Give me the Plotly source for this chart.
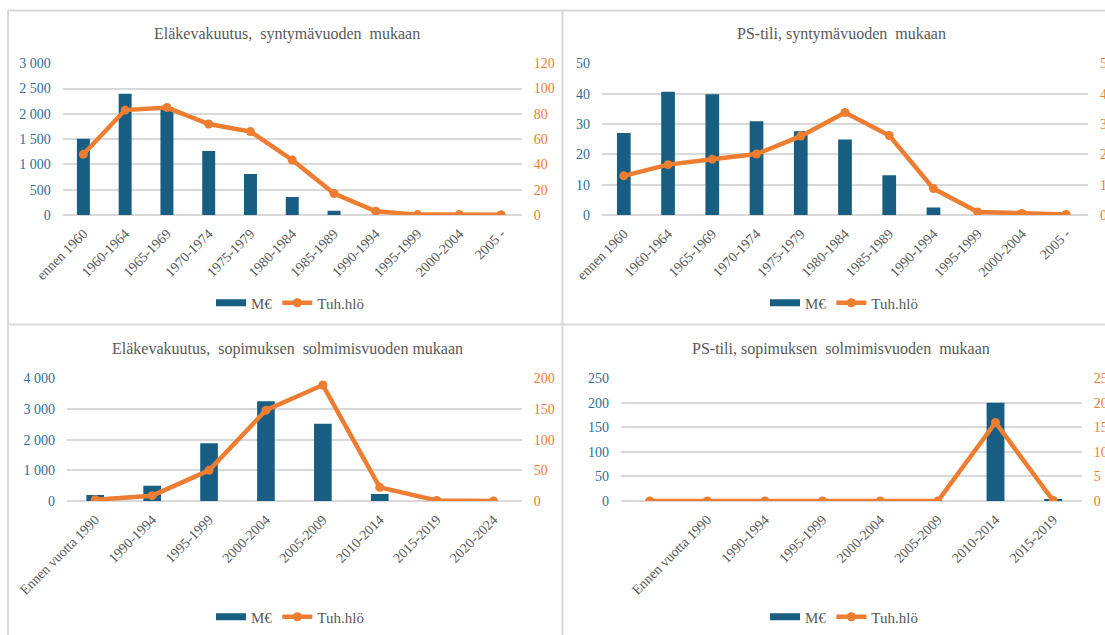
import plotly.graph_objects as go

# ---- data -------------------------------------------------------------
birth_groups = ["ennen 1960", "1960-1964", "1965-1969", "1970-1974", "1975-1979",
                "1980-1984", "1985-1989", "1990-1994", "1995-1999", "2000-2004", "2005 -"]

ins_birth_meur = [1510, 2400, 2130, 1265, 810, 355, 85, 0, 0, 0, 0]
ins_birth_persons = [48, 83, 85, 72, 66, 43.5, 17, 3, 0.3, 0.3, 0.2]

ps_birth_meur = [27.0, 40.6, 39.8, 30.9, 27.6, 24.9, 13.1, 2.5, 0, 0, 0]
ps_birth_persons = [12.9, 16.6, 18.4, 20.1, 26.0, 33.8, 26.2, 8.7, 1.0, 0.5, 0.2]

contract_groups = ["Ennen vuotta 1990", "1990-1994", "1995-1999", "2000-2004",
                   "2005-2009", "2010-2014", "2015-2019", "2020-2024"]
ins_contract_meur = [195, 500, 1880, 3250, 2520, 230, 0, 0]
ins_contract_persons = [2, 8.7, 50, 148, 189, 22.3, 1, 0]

ps_contract_groups = ["", "Ennen vuotta 1990", "1990-1994", "1995-1999", "2000-2004",
                      "2005-2009", "2010-2014", "2015-2019"]
ps_contract_meur = [0, 0, 0, 0, 0, 0, 200, 4]
ps_contract_persons = [0, 0, 0, 0, 0, 0, 16.0, 0.1]

titles = ["Eläkevakuutus,  syntymävuoden  mukaan",
          "PS-tili, syntymävuoden  mukaan",
          "Eläkevakuutus,  sopimuksen  solmimisvuoden mukaan",
          "PS-tili, sopimuksen  solmimisvuoden  mukaan"]

# ---- styling ----------------------------------------------------------
W, H = 1105, 635
FONT = "Liberation Serif"
BAR = "#175E82"
LINE = "#ED7D31"
LEFT_TXT = "#2F6E94"
GRAY_TXT = "#595959"
GRID = "#D9D9D9"


def px(v):
    return v / W


def py(v):
    return 1 - v / H


panels = [
    dict(x=(62.5, 522.0), y=(63.3, 215.0), cats=birth_groups, bars=ins_birth_meur,
         line=ins_birth_persons, left=(3000, 500), right=(120, 20),
         title=(287, 34), legend=(290, 303), numeric=False),
    dict(x=(601.7, 1088.3), y=(63.3, 215.0), cats=birth_groups, bars=ps_birth_meur,
         line=ps_birth_persons, left=(50, 10), right=(50, 10),
         title=(841, 34), legend=(844, 303), numeric=False),
    dict(x=(66.8, 522.0), y=(378.3, 501.0), cats=contract_groups, bars=ins_contract_meur,
         line=ins_contract_persons, left=(4000, 1000), right=(200, 50),
         title=(287, 349), legend=(290, 617), numeric=False),
    dict(x=(620.8, 1082.0), y=(378.3, 501.0), cats=ps_contract_groups, bars=ps_contract_meur,
         line=ps_contract_persons, left=(250, 50), right=(25, 5),
         title=(841, 349), legend=(844, 617), numeric=True),
]

fig = go.Figure()
layout = dict(
    width=W, height=H, margin=dict(l=0, r=0, t=0, b=0),
    paper_bgcolor="white", plot_bgcolor="rgba(0,0,0,0)",
    separators=", ", showlegend=True, bargap=0.69,
    font=dict(family=FONT, color=GRAY_TXT, size=14),
    annotations=[], shapes=[],
)

for i, p in enumerate(panels):
    k = i + 1
    xa = "x" if k == 1 else f"x{k}"
    ya = "y" if k == 1 else f"y{k}"
    ya2 = f"y{k + 4}"
    leg = "legend" if k == 1 else f"legend{k}"
    n = len(p["cats"])
    xs = list(range(n)) if p["numeric"] else p["cats"]

    fig.add_trace(go.Bar(x=xs, y=p["bars"], xaxis=xa, yaxis=ya, marker_color=BAR,
                         marker_line_width=0, showlegend=False, name="M€"))
    # legend entry for the bars drawn as a wide swatch
    fig.add_trace(go.Scatter(x=[None], y=[None], xaxis=xa, yaxis=ya, mode="lines",
                             line=dict(color=BAR, width=7), name="M€", legend=leg))
    fig.add_trace(go.Scatter(x=xs, y=p["line"], xaxis=xa, yaxis=ya2, mode="lines+markers",
                             line=dict(color=LINE, width=4.5), marker=dict(color=LINE, size=9),
                             name="Tuh.hlö", legend=leg))

    xaxis = dict(domain=[px(p["x"][0]), px(p["x"][1])], anchor=ya,
                 range=[-0.5, n - 0.5], tickangle=-45, showgrid=False,
                 showline=False, zeroline=False, ticks="outside", ticklen=4,
                 tickcolor="rgba(0,0,0,0)", automargin=False,
                 tickfont=dict(family=FONT, size=14, color=GRAY_TXT))
    if p["numeric"]:
        xaxis.update(tickmode="array", tickvals=list(range(n)), ticktext=p["cats"])
    else:
        xaxis.update(type="category")
    layout["xaxis" if k == 1 else f"xaxis{k}"] = xaxis

    ydom = [py(p["y"][1]), py(p["y"][0])]
    layout["yaxis" if k == 1 else f"yaxis{k}"] = dict(
        domain=ydom, anchor=xa, range=[0, p["left"][0]], dtick=p["left"][1],
        tickformat=",d", showgrid=True, gridcolor=GRID, gridwidth=1.5,
        zeroline=True, zerolinecolor=GRID, zerolinewidth=1.5, showline=False,
        ticks="outside", ticklen=8, tickcolor="rgba(0,0,0,0)", automargin=False,
        tickfont=dict(family=FONT, size=14, color=LEFT_TXT))
    layout[f"yaxis{k + 4}"] = dict(
        domain=ydom, anchor=xa, overlaying=ya, side="right",
        range=[0, p["right"][0]], dtick=p["right"][1], showgrid=False,
        zeroline=False, showline=False, ticks="outside", ticklen=8,
        tickcolor="rgba(0,0,0,0)", automargin=False,
        tickfont=dict(family=FONT, size=14, color=LINE))

    layout[leg] = dict(orientation="h", x=px(p["legend"][0]), y=py(p["legend"][1]),
                       xanchor="center", yanchor="middle", bgcolor="rgba(0,0,0,0)",
                       font=dict(family=FONT, size=15, color=GRAY_TXT),
                       itemwidth=30, tracegroupgap=0)

    layout["annotations"].append(dict(
        text=titles[i], x=px(p["title"][0]), y=py(p["title"][1]),
        xref="paper", yref="paper", xanchor="center", yanchor="middle", showarrow=False,
        font=dict(family=FONT, size=16, color=GRAY_TXT)))

# chart frames
for x0, y0, x1, y1 in [(8, 10.5, W, 10.5), (8, 10.5, 8, H), (562.5, 10.5, 562.5, H),
                       (8, 324.5, W, 324.5)]:
    layout["shapes"].append(dict(type="line", xref="paper", yref="paper",
                                 x0=px(x0), y0=py(y0), x1=px(x1), y1=py(y1),
                                 line=dict(color=GRID, width=2)))

fig.update_layout(**layout)
fig.write_html("out.html")
